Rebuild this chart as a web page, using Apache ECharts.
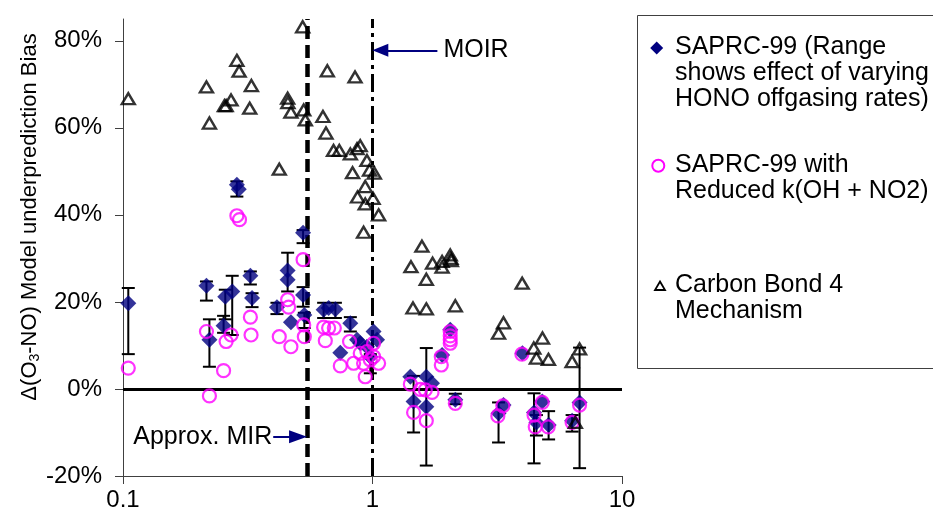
<!DOCTYPE html>
<html>
<head>
<meta charset="utf-8">
<script src="https://cdn.jsdelivr.net/npm/echarts@6/dist/echarts.min.js"></script>
<style>
  html, body { margin: 0; padding: 0; background: #fff; }
  #chart-panel { width: 933px; height: 523px; }
</style>
</head>
<body>
<div id="chart-panel"></div>
<script>
// Δ(O3-NO) model underprediction bias vs ROG/NOx, log x axis

var FONT = '"Liberation Sans", Arial, sans-serif';

// SAPRC-99 (diamonds)
var sapX = [0.105, 0.216, 0.222, 0.253, 0.257, 0.274, 0.286, 0.291, 0.324, 0.329,
    0.527, 0.457, 0.457, 0.414, 0.471, 0.527, 0.533, 0.637, 0.667, 0.710,
    0.815, 0.743, 0.867, 0.893, 0.950, 1.01, 1.043, 0.980, 1.418, 1.461,
    1.643, 1.643, 1.732, 1.901, 2.049, 2.147, 3.20, 3.35, 3.99, 4.44,
    4.54, 4.79, 5.08, 6.31, 6.76];
var sapY = [19.7, 23.7, 11.3, 14.5, 21.2, 22.4, 46.9, 45.9, 26.0, 20.9,
    35.9, 27.2, 25.1, 18.8, 15.3, 21.6, 17.0, 18.2, 18.6, 18.3,
    15.1, 8.3, 11.3, 10.5, 9.7, 13.2, 11.3, 7.4, 2.8, -2.9,
    2.8, -4.1, 1.3, 7.8, 13.6, -2.5, -5.6, -3.7, 8.2, -5.4,
    -7.7, -2.9, -8.3, -7.3, -3.1];

// range from varying HONO offgasing rates
var errX = [0.105, 0.216, 0.222, 0.253, 0.257, 0.274, 0.286, 0.324, 0.329, 0.527,
    0.457, 0.414, 0.527, 0.533, 0.637, 0.710, 0.815, 0.980, 1.461, 1.643,
    2.147, 3.20, 4.44, 4.54, 5.08, 6.31, 6.76];
var errLow = [8.0, 20.3, 5.1, 12.9, 16.0, 12.4, 44.2, 24.0, 18.8, 33.5,
    22.4, 17.2, 18.9, 14.0, 16.3, 16.3, 13.2, 3.6, -10.0, -17.6,
    -3.5, -12.3, -17.1, -10.7, -11.6, -9.8, -18.2];
var errHigh = [23.2, 24.7, 16.0, 16.8, 22.8, 26.0, 47.7, 27.0, 22.0, 36.5,
    31.3, 19.8, 23.4, 17.5, 19.8, 19.8, 16.5, 8.0, 3.0, 9.4,
    -1.1, -3.1, -1.0, -6.0, -5.1, -6.0, 9.5];

// SAPRC-99 with reduced k(OH + NO2) (circles)
var redX = [0.105, 0.216, 0.222, 0.253, 0.259, 0.271, 0.286, 0.293, 0.324, 0.326,
    0.527, 0.457, 0.461, 0.423, 0.471, 0.530, 0.533, 0.637, 0.667, 0.703,
    0.647, 0.743, 0.809, 0.840, 0.893, 0.950, 1.01, 1.01, 1.058, 0.921,
    0.980, 0.935, 1.418, 1.461, 1.555, 1.628, 1.732, 1.643, 1.887, 1.887,
    2.049, 2.049, 2.049, 2.049, 2.147, 3.18, 3.33, 3.97, 4.44, 4.49,
    4.79, 5.06, 6.31, 6.76];
var redY = [4.8, 13.2, -1.6, 4.2, 10.9, 12.4, 39.8, 38.9, 16.5, 12.4,
    29.7, 20.5, 18.8, 12.0, 9.7, 14.7, 12.0, 14.2, 14.0, 14.0,
    11.1, 5.3, 10.9, 5.9, 8.2, 8.6, 10.5, 7.4, 5.9, 5.9,
    6.7, 2.8, 1.1, -5.4, -0.1, -0.2, -0.8, -7.3, 7.4, 5.5,
    13.2, 12.2, 11.3, 10.5, -3.3, -6.2, -3.9, 8.0, -6.0, -8.7,
    -3.1, -8.7, -7.7, -3.7];

// Carbon Bond 4 (triangles)
var cb4X = [0.105, 0.286, 0.292, 0.216, 0.327, 0.271, 0.255, 0.259, 0.322, 0.222,
    0.423, 0.457, 0.458, 0.471, 0.525, 0.530, 0.538, 0.659, 0.851, 0.633,
    0.651, 0.698, 0.736, 0.815, 0.867, 0.893, 0.950, 0.832, 0.973, 1.017,
    0.935, 0.871, 1.005, 0.935, 1.058, 0.921, 1.578, 1.426, 1.741, 1.901,
    1.901, 2.049, 2.063, 2.07, 1.643, 1.453, 1.643, 2.147, 3.98, 3.35,
    3.20, 4.80, 4.43, 4.54, 5.07, 6.31, 6.76, 6.50];
var cb4Y = [66.7, 75.5, 73.0, 69.4, 69.7, 66.4, 65.1, 65.1, 64.5, 61.1,
    50.5, 66.8, 65.8, 63.6, 83.2, 64.1, 61.8, 73.1, 71.7, 62.6,
    58.8, 54.8, 54.8, 54.0, 55.2, 55.9, 52.5, 49.7, 50.3, 49.6,
    46.5, 44.1, 43.8, 42.5, 40.0, 36.0, 32.8, 28.1, 28.9, 29.3,
    28.0, 30.8, 30.0, 29.5, 25.2, 18.6, 18.4, 19.1, 24.3, 15.2,
    12.8, 11.7, 9.4, 7.1, 6.8, 6.3, 9.2, -7.7];

var yTicks = [-20, 0, 20, 40, 60, 80];
var legendNames = [
    'SAPRC-99 (Range\nshows effect of varying\nHONO offgasing rates)',
    'SAPRC-99 with\nReduced k(OH + NO2)',
    'Carbon Bond 4\nMechanism'
];
var mirX = 0.55;
var moirX = 1;

function zip(xs, ys) {
    return xs.map(function (x, i) { return [x, ys[i]]; });
}

var errData = errX.map(function (x, i) { return [x, errLow[i], errHigh[i]]; });

function renderErr(params, api) {
    var lo = api.coord([api.value(0), api.value(1)]);
    var hi = api.coord([api.value(0), api.value(2)]);
    var w = 6.5;
    var st = { stroke: '#000', lineWidth: 2 };
    return {
        type: 'group',
        children: [
            { type: 'line', shape: { x1: lo[0], y1: lo[1], x2: hi[0], y2: hi[1] }, style: st },
            { type: 'line', shape: { x1: lo[0] - w, y1: lo[1], x2: lo[0] + w, y2: lo[1] }, style: st },
            { type: 'line', shape: { x1: hi[0] - w, y1: hi[1], x2: hi[0] + w, y2: hi[1] }, style: st }
        ]
    };
}

var chartOption = {
    backgroundColor: '#fff',
    animation: false,
    textStyle: { fontFamily: FONT },
    grid: { left: 123, right: 311, top: 19, bottom: 47 },
    xAxis: {
        type: 'log',
        logBase: 10,
        min: 0.1,
        max: 10,
        axisLine: { onZero: false, lineStyle: { color: '#404040', width: 1 } },
        axisTick: { show: true, length: 8, lineStyle: { color: '#404040' } },
        minorTick: { show: false },
        splitLine: { show: false },
        axisLabel: { fontSize: 24, color: '#000', margin: 12, fontFamily: FONT }
    },
    yAxis: {
        type: 'value',
        min: -20,
        max: 85,
        interval: 20,
        axisLine: { show: true, onZero: false, lineStyle: { color: '#404040', width: 1 } },
        axisTick: { show: true, length: 8, customValues: yTicks, lineStyle: { color: '#404040' } },
        splitLine: { show: false },
        axisLabel: {
            customValues: yTicks,
            fontSize: 24,
            color: '#000',
            margin: 21,
            fontFamily: FONT,
            formatter: '{value}%'
        }
    },
    series: [{
        name: 'range',
        type: 'custom',
        renderItem: renderErr,
        data: errData,
        z: 2,
        silent: true,
        markLine: {
            silent: true,
            z: 1,
            symbol: ['none', 'none'],
            label: { show: false },
            data: [
                { yAxis: 0, lineStyle: { color: '#000', width: 3, type: 'solid' } },
                { xAxis: mirX, lineStyle: { color: '#000', width: 4.5, type: [13, 6] } },
                { xAxis: moirX, lineStyle: { color: '#000', width: 3, type: [18, 5, 4, 5] } },
                [{
                    coord: [1.82, 77.8],
                    symbol: 'none',
                    lineStyle: { color: '#000080', width: 2, type: 'solid' },
                    label: { show: true, position: 'start', formatter: 'MOIR', fontSize: 25, color: '#000', distance: 6, fontFamily: FONT }
                }, {
                    coord: [1.075, 77.8],
                    symbol: 'triangle',
                    symbolSize: [13, 16]
                }],
                [{
                    coord: [0.400, -11.0],
                    symbol: 'none',
                    lineStyle: { color: '#000080', width: 2, type: 'solid' },
                    label: { show: true, position: 'start', formatter: 'Approx. MIR', fontSize: 25, color: '#000', distance: 1, fontFamily: FONT }
                }, {
                    coord: [0.503, -11.0],
                    symbol: 'triangle',
                    symbolSize: [13, 18]
                }]
            ]
        }
    }, {
        name: 'SAPRC-99',
        type: 'scatter',
        symbol: 'diamond',
        symbolSize: 16,
        z: 3,
        itemStyle: { color: '#000080' },
        data: zip(sapX, sapY)
    }, {
        name: 'SAPRC-99 reduced',
        type: 'scatter',
        symbol: 'circle',
        symbolSize: 13,
        z: 4,
        itemStyle: { color: 'rgba(0,0,0,0)', borderColor: '#ff00ff', borderWidth: 2.2 },
        data: zip(redX, redY)
    }, {
        name: 'CB4',
        type: 'scatter',
        symbol: 'triangle',
        symbolSize: [13, 11],
        z: 5,
        itemStyle: { color: 'rgba(0,0,0,0)', borderColor: '#000', borderWidth: 2.4 },
        data: zip(cb4X, cb4Y)
    }],
    graphic: [
        {
            type: 'text',
            x: 30,
            y: 217,
            rotation: Math.PI / 2,
            style: {
                text: '{a|Δ(O}{s|3}{a|-NO) Model underprediction Bias}',
                align: 'center',
                verticalAlign: 'middle',
                fill: '#000',
                rich: {
                    a: { fontSize: 22, fontFamily: FONT, fill: '#000' },
                    s: { fontSize: 14, fontFamily: FONT, fill: '#000', verticalAlign: 'bottom', padding: [10, 0, 0, 0] }
                }
            }
        },
        {
            type: 'rect',
            shape: { x: 637.5, y: 15.5, width: 320, height: 353 },
            style: { fill: '#fff', stroke: '#404040', lineWidth: 1 }
        },
        {
            type: 'polygon',
            shape: { points: [[656.7, 41.5], [663.2, 48], [656.7, 54.5], [650.2, 48]] },
            style: { fill: '#000080' }
        },
        {
            type: 'circle',
            shape: { cx: 658.3, cy: 165.7, r: 6 },
            style: { fill: 'none', stroke: '#ff00ff', lineWidth: 2 }
        },
        {
            type: 'polygon',
            shape: { points: [[660, 281.5], [665, 290], [655, 290]] },
            style: { fill: 'none', stroke: '#000', lineWidth: 1.8 }
        },
        {
            type: 'text', x: 675, y: 34.5,
            style: { text: legendNames[0], fontSize: 25, lineHeight: 26, fontFamily: FONT, fill: '#000', verticalAlign: 'top' }
        },
        {
            type: 'text', x: 675, y: 152,
            style: { text: legendNames[1], fontSize: 25, lineHeight: 26, fontFamily: FONT, fill: '#000', verticalAlign: 'top' }
        },
        {
            type: 'text', x: 675, y: 272,
            style: { text: legendNames[2], fontSize: 25, lineHeight: 26, fontFamily: FONT, fill: '#000', verticalAlign: 'top' }
        }
    ]
};

var chartPanel = document.getElementById('chart-panel');
var myChart = echarts.init(chartPanel);
myChart.setOption(chartOption);
</script>
</body>
</html>
